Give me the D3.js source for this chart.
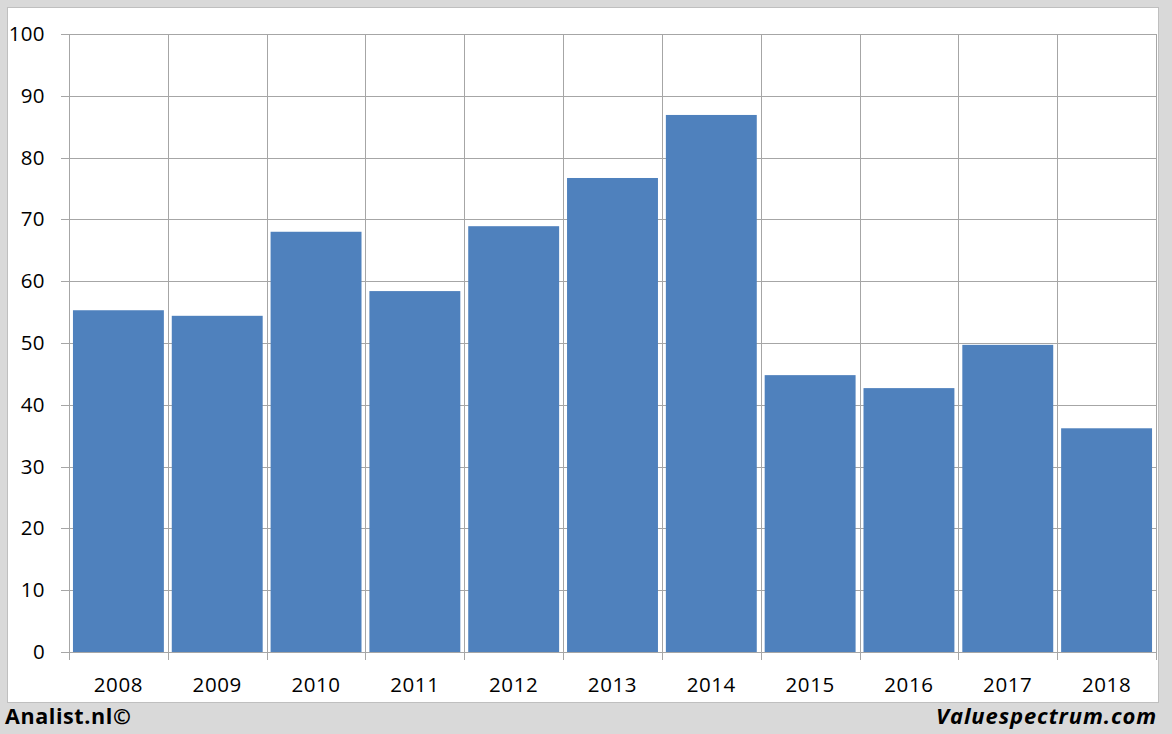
<!DOCTYPE html>
<html><head><meta charset="utf-8">
<script src="https://cdn.jsdelivr.net/npm/d3@7"></script>
<style>body{margin:0;background:#d9d9d9;}svg{display:block;}</style>
</head><body>
<svg id="c" width="1172" height="734"></svg>
<script>
const categories = ["2008","2009","2010","2011","2012","2013","2014","2015","2016","2017","2018"];
const values = [55.3, 54.4, 68.0, 58.4, 68.9, 76.7, 86.9, 44.8, 42.7, 49.7, 36.2];
const yTicks = [0,10,20,30,40,50,60,70,80,90,100];

const svg = d3.select("#c");
const W = 1172, H = 734;
const L = 69, R = 1156, T = 34, B = 652;
const font = "'Open Sans', 'Liberation Sans', sans-serif";

svg.append("rect").attr("width", W).attr("height", H).attr("fill", "#d9d9d9");
svg.append("rect").attr("x", 7.5).attr("y", 7.5).attr("width", 1151).attr("height", 695)
  .attr("fill", "#fff").attr("stroke", "#bfbfbf").attr("stroke-width", 1);

const x = d3.scaleBand().domain(categories).range([L, R]).paddingInner(0.08).paddingOuter(0.04);
const xb = d3.scaleBand().domain(categories).range([L, R]).padding(0);
const y = d3.scaleLinear().domain([0, 100]).range([B, T]);

// horizontal grid + ticks
svg.append("g").selectAll("line").data(yTicks).join("line")
  .attr("x1", L - 8).attr("x2", R).attr("y1", d => Math.round(y(d)) + 0.5).attr("y2", d => Math.round(y(d)) + 0.5)
  .attr("stroke", "#a6a6a6").attr("stroke-width", 1);
// vertical grid
const bounds = categories.map(c => xb(c)).concat([R]);
svg.append("g").selectAll("line").data(bounds).join("line")
  .attr("x1", d => Math.round(d) + 0.5).attr("x2", d => Math.round(d) + 0.5)
  .attr("y1", T).attr("y2", B + 8)
  .attr("stroke", "#a6a6a6").attr("stroke-width", 1);

// bars
svg.append("g").selectAll("rect").data(values).join("rect")
  .attr("x", (d, i) => x(categories[i]))
  .attr("width", x.bandwidth())
  .attr("y", d => y(d))
  .attr("height", d => B - y(d))
  .attr("fill", "#4f81bd");

// y labels
svg.append("g").selectAll("text").data(yTicks).join("text")
  .attr("x", 45).attr("y", d => y(d) + 7).attr("text-anchor", "end")
  .attr("font-family", font).attr("font-size", 20.5).attr("letter-spacing", 0.4).attr("fill", "#000").text(d => d);
// x labels
svg.append("g").selectAll("text").data(categories).join("text")
  .attr("x", d => xb(d) + xb.bandwidth() / 2).attr("y", 692).attr("text-anchor", "middle")
  .attr("font-family", font).attr("font-size", 20.5).attr("letter-spacing", 0.6).attr("fill", "#000").text(d => d);

// footer
svg.append("text").attr("x", 5).attr("y", 724).attr("font-family", font).attr("font-weight", "bold")
  .attr("font-size", 21.5).attr("letter-spacing", 0.6).attr("fill", "#000").text("Analist.nl©");
svg.append("text").attr("x", 1157).attr("y", 724).attr("text-anchor", "end").attr("font-family", font)
  .attr("font-weight", "bold").attr("font-style", "italic").attr("font-size", 22).attr("letter-spacing", 0.9).attr("fill", "#000").text("Valuespectrum.com");
</script>
</body></html>
